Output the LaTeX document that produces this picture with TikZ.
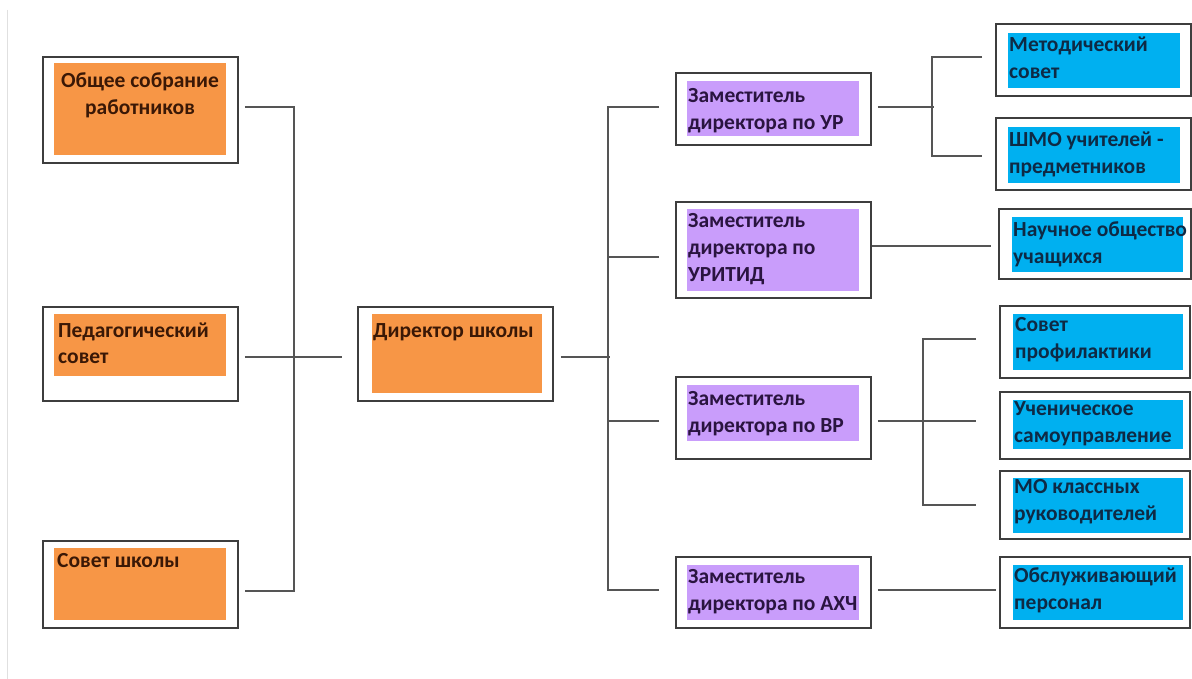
\documentclass[tikz,border=0pt]{standalone}
\usepackage{fontspec}
\setmainfont{Carlito}
\usetikzlibrary{calc}
\definecolor{orgorange}{HTML}{F79646}
\definecolor{orgpurple}{HTML}{C99DFB}
\definecolor{orgblue}{HTML}{00B0F0}
\definecolor{txtbrown}{HTML}{3A1806}
\definecolor{txtpurple}{HTML}{2A1440}
\definecolor{txtblue}{HTML}{0E2A45}
\definecolor{boxline}{HTML}{3E3E3E}
\definecolor{connline}{HTML}{555555}
\tikzset{
  outerbox/.style={rectangle, draw=boxline, line width=1.6pt, fill=white, inner sep=0pt},
  innerbox/.style={rectangle, draw=none, fill=#1, inner sep=0pt},
  lbl/.style={inner sep=0pt, font=\bfseries\fontsize{21.5}{27}\selectfont, text width=200pt, align=flush left, anchor=base west},
  clbl/.style={inner sep=0pt, font=\bfseries\fontsize{21.5}{27}\selectfont, text width=172pt, align=flush center, anchor=base},
  conn/.style={draw=connline, line width=1.5pt},
}
% name, x1, y1, x2, y2
\newcommand{\OrgOuter}[5]{\node[outerbox, minimum width={(#4-#2)*1pt}, minimum height={(#5-#3)*1pt}] (#1) at ({(#2+#4)/2},{(#3+#5)/2}) {};}
% name, x1, y1, x2, y2, colour
\newcommand{\OrgInner}[6]{\node[innerbox=#6, minimum width={(#4-#2)*1pt}, minimum height={(#5-#3)*1pt}] (#1) at ({(#2+#4)/2},{(#3+#5)/2}) {};}
\begin{document}
\begin{tikzpicture}[x=1pt,y=-1pt]
\useasboundingbox (0,0) rectangle (1192,679);
\fill[white] (0,0) rectangle (1192,679);
\draw[draw=black!12, line width=1pt] (7.5,10) -- (7.5,679);

% left column
\OrgOuter{L1}{43}{57}{238}{163}
\OrgInner{L1i}{54}{63}{226}{155}{orgorange}
\node[clbl, text=txtbrown] (L1t) at (140,88) {Общее собрание\\работников};

\OrgOuter{L2}{43}{307}{238}{401}
\OrgInner{L2i}{54}{314}{226}{376}{orgorange}
\node[lbl, text=txtbrown] (L2t) at (58,337) {Педагогический\\совет};

\OrgOuter{L3}{43}{541}{238}{628}
\OrgInner{L3i}{54}{548}{226}{620}{orgorange}
\node[lbl, text=txtbrown] (L3t) at (57,567) {Совет школы};

% director
\OrgOuter{D}{358}{307}{553}{401}
\OrgInner{Di}{372}{314}{542}{393}{orgorange}
\node[lbl, text=txtbrown] (Dt) at (373,337) {Директор школы};

% deputies
\OrgOuter{P1}{676}{73}{871}{145}
\OrgInner{P1i}{687}{81}{859}{136}{orgpurple}
\node[lbl, text=txtpurple] (P1t) at (688,103) {Заместитель\\директора по УР};

\OrgOuter{P2}{676}{202}{871}{298}
\OrgInner{P2i}{687}{209}{859}{291}{orgpurple}
\node[lbl, text=txtpurple] (P2t) at (688,228) {Заместитель\\директора по\\УРИТИД};

\OrgOuter{P3}{676}{377}{871}{459}
\OrgInner{P3i}{687}{385}{859}{441}{orgpurple}
\node[lbl, text=txtpurple] (P3t) at (688,405) {Заместитель\\директора по ВР};

\OrgOuter{P4}{676}{557}{871}{628}
\OrgInner{P4i}{687}{565}{859}{620}{orgpurple}
\node[lbl, text=txtpurple] (P4t) at (688,583) {Заместитель\\директора по АХЧ};

% units
\OrgOuter{B1}{996}{24}{1191}{96}
\OrgInner{B1i}{1008}{33}{1180}{88}{orgblue}
\node[lbl, text=txtblue] (B1t) at (1009,52) {Методический\\совет};

\OrgOuter{B2}{996}{118}{1191}{190}
\OrgInner{B2i}{1008}{127}{1180}{183}{orgblue}
\node[lbl, text=txtblue] (B2t) at (1009,147) {ШМО учителей -\\предметников};

\OrgOuter{B3}{999}{209}{1191}{279}
\OrgInner{B3i}{1012}{217}{1183}{272}{orgblue}
\node[lbl, text=txtblue] (B3t) at (1013,237) {Научное общество\\учащихся};

\OrgOuter{B4}{1000}{306}{1190}{378}
\OrgInner{B4i}{1013}{314}{1183}{370}{orgblue}
\node[lbl, text=txtblue] (B4t) at (1015,331) {Совет\\профилактики};

\OrgOuter{B5}{1000}{392}{1190}{459}
\OrgInner{B5i}{1013}{400}{1183}{449}{orgblue}
\node[lbl, text=txtblue] (B5t) at (1014,415) {Ученическое\\самоуправление};

\OrgOuter{B6}{1000}{471}{1190}{539}
\OrgInner{B6i}{1013}{478}{1183}{533}{orgblue}
\node[lbl, text=txtblue] (B6t) at (1014,493) {МО классных\\руководителей};

\OrgOuter{B7}{1000}{557}{1190}{628}
\OrgInner{B7i}{1013}{565}{1183}{620}{orgblue}
\node[lbl, text=txtblue] (B7t) at (1014,582) {Обслуживающий\\персонал};

% connectors: councils to director
\draw[conn] ([shift={(6,-3)}]L1.east) -| ++(49,484) -- ++(-49,0);
\draw[conn] ([shift={(6,3)}]L2.east) -- ([shift={(-15,3)}]D.west);

% director to deputies
\draw[conn] ([shift={(7,3)}]D.east) -- ++(49,0);
\draw[conn] ([shift={(-16,-2)}]P1.west) -| ([shift={(-67,-2.5)}]P4.west) -- ([shift={(-16,-2.5)}]P4.west);
\draw[conn] ([shift={(-16,7)}]P2.west) -- ++(-51,0);
\draw[conn] ([shift={(-16,3)}]P3.west) -- ++(-51,0);

% deputies to units
\draw[conn] ([shift={(6,-2)}]P1.east) -- ++(56,0);
\draw[conn] ([shift={(-13,-3)}]B1.west) -- ++(-50,0) |- ([shift={(-13,2)}]B2.west);
\draw[conn] ([shift={(0,-4)}]P2.east) -- ([shift={(-7,2)}]B3.west);
\draw[conn] ([shift={(6,3)}]P3.east) -- ([shift={(-23,-4.5)}]B5.west);
\draw[conn] ([shift={(-23,-3)}]B4.west) -- ++(-53,0) |- ([shift={(-23,0)}]B6.west);
\draw[conn] ([shift={(6,-2.5)}]P4.east) -- ([shift={(-3,-2.5)}]B7.west);
\end{tikzpicture}
\end{document}
